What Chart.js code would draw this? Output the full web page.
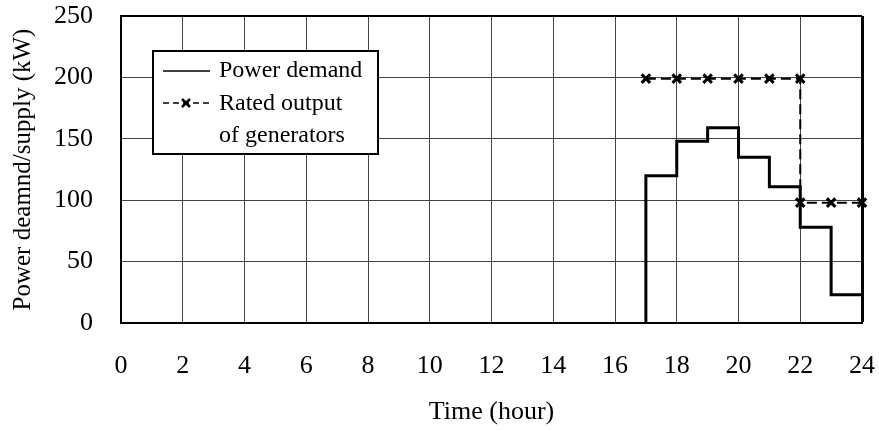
<!DOCTYPE html>
<html>
<head>
<meta charset="utf-8">
<script src="https://cdn.jsdelivr.net/npm/chart.js@4"></script>
<style>
  html, body { margin: 0; padding: 0; background: #fff; }
  #wrap { width: 879px; height: 430px; }
</style>
</head>
<body>
<div id="wrap"><canvas id="chart" width="879" height="430"></canvas></div>
<script>
// Power demand, stepped (hour the level starts, kW)
const demandHours = [17, 17, 18, 19, 20, 21, 22, 23, 24];
const demandKW = [0, 120, 148, 159, 135, 111, 78, 23, 23];

// Rated output of generators (kW)
const ratedHours = [17, 18, 19, 20, 21, 22, 22, 23, 24];
const ratedKW = [199, 199, 199, 199, 199, 199, 98, 98, 98];

// Axis ticks
const hourTicks = [0, 2, 4, 6, 8, 10, 12, 14, 16, 18, 20, 22, 24];
const kwTicks = [0, 50, 100, 150, 200, 250];

const legendLabels = ['Power demand', 'Rated output', 'of generators'];

const serif = '"Liberation Serif", "Times New Roman", serif';

const toPoints = (xs, ys) => xs.map((x, i) => ({ x: x, y: ys[i] }));

// no extra room for overflowing tick labels, layout padding decides the plot box
function noLabelPadding(scale) {
    scale.paddingTop = 0;
    scale.paddingBottom = 0;
    scale.paddingLeft = 0;
    scale.paddingRight = 0;
}

// Boxed legend drawn inside the plot, like the original figure
const boxLegend = {
    id: 'boxLegend',
    afterDraw(chart) {
        const ctx = chart.ctx;
        ctx.save();
        ctx.fillStyle = '#fff';
        ctx.fillRect(153, 51, 225, 103);
        ctx.strokeStyle = '#000';
        ctx.lineWidth = 2;
        ctx.strokeRect(153, 51, 225, 103);

        // solid sample
        ctx.lineWidth = 1.5;
        ctx.beginPath();
        ctx.moveTo(163, 71);
        ctx.lineTo(210, 71);
        ctx.stroke();

        // dashed sample with cross marker
        ctx.setLineDash([6, 4]);
        ctx.beginPath();
        ctx.moveTo(163, 103);
        ctx.lineTo(210, 103);
        ctx.stroke();
        ctx.setLineDash([]);
        ctx.lineWidth = 2.5;
        ctx.beginPath();
        ctx.moveTo(182, 99); ctx.lineTo(190, 107);
        ctx.moveTo(190, 99); ctx.lineTo(182, 107);
        ctx.stroke();

        ctx.fillStyle = '#000';
        ctx.font = '24px ' + serif;
        ctx.textBaseline = 'middle';
        ctx.textAlign = 'left';
        ctx.fillText(legendLabels[0], 219, 71);
        ctx.fillText(legendLabels[1], 219, 104);
        ctx.fillText(legendLabels[2], 219, 136);
        ctx.restore();
    }
};

new Chart(document.getElementById('chart'), {
    type: 'line',
    data: {
        datasets: [{
            label: 'Power demand',
            data: toPoints(demandHours, demandKW),
            stepped: 'before',
            borderColor: '#000',
            borderWidth: 3,
            pointRadius: 0,
            fill: false
        }, {
            label: 'Rated output of generators',
            data: toPoints(ratedHours, ratedKW),
            borderColor: '#000',
            borderWidth: 2,
            borderDash: [10, 5],
            pointStyle: 'crossRot',
            pointRadius: 6,
            pointBorderWidth: 3,
            pointBorderColor: '#000',
            clip: false,
            fill: false
        }]
    },
    options: {
        responsive: false,
        animation: false,
        layout: { padding: { left: 0, top: 16, right: 17, bottom: 0 } },
        plugins: {
            legend: { display: false },
            tooltip: { enabled: false }
        },
        scales: {
            x: {
                type: 'linear',
                min: 0,
                max: 24,
                afterBuildTicks: (scale) => { scale.ticks = hourTicks.map(v => ({ value: v })); },
                afterFit: (scale) => { scale.height = 107; noLabelPadding(scale); },
                grid: {
                    drawTicks: false,
                    color: (c) => c.tick && c.tick.value === 24 ? '#000' : '#444',
                    lineWidth: (c) => c.tick && c.tick.value === 24 ? 3 : 1
                },
                border: { color: '#000', width: 2 },
                ticks: {
                    padding: 28,
                    color: '#000',
                    maxRotation: 0,
                    font: { family: serif, size: 26 }
                },
                title: {
                    display: true,
                    text: 'Time (hour)',
                    color: '#000',
                    font: { family: serif, size: 26 },
                    padding: { top: 0, bottom: 2 }
                }
            },
            y: {
                min: 0,
                max: 250,
                afterBuildTicks: (scale) => { scale.ticks = kwTicks.map(v => ({ value: v })); },
                afterFit: (scale) => { scale.width = 121; noLabelPadding(scale); },
                grid: {
                    drawTicks: false,
                    color: (c) => c.tick && c.tick.value === 250 ? '#000' : '#444',
                    lineWidth: (c) => c.tick && c.tick.value === 250 ? 2 : 1
                },
                border: { color: '#000', width: 2 },
                ticks: {
                    padding: 28,
                    color: '#000',
                    font: { family: serif, size: 26 }
                },
                title: {
                    display: true,
                    text: 'Power deamnd/supply (kW)',
                    color: '#000',
                    font: { family: serif, size: 25 },
                    padding: { top: 8, bottom: 0 }
                }
            }
        }
    },
    plugins: [boxLegend]
});
</script>
</body>
</html>
